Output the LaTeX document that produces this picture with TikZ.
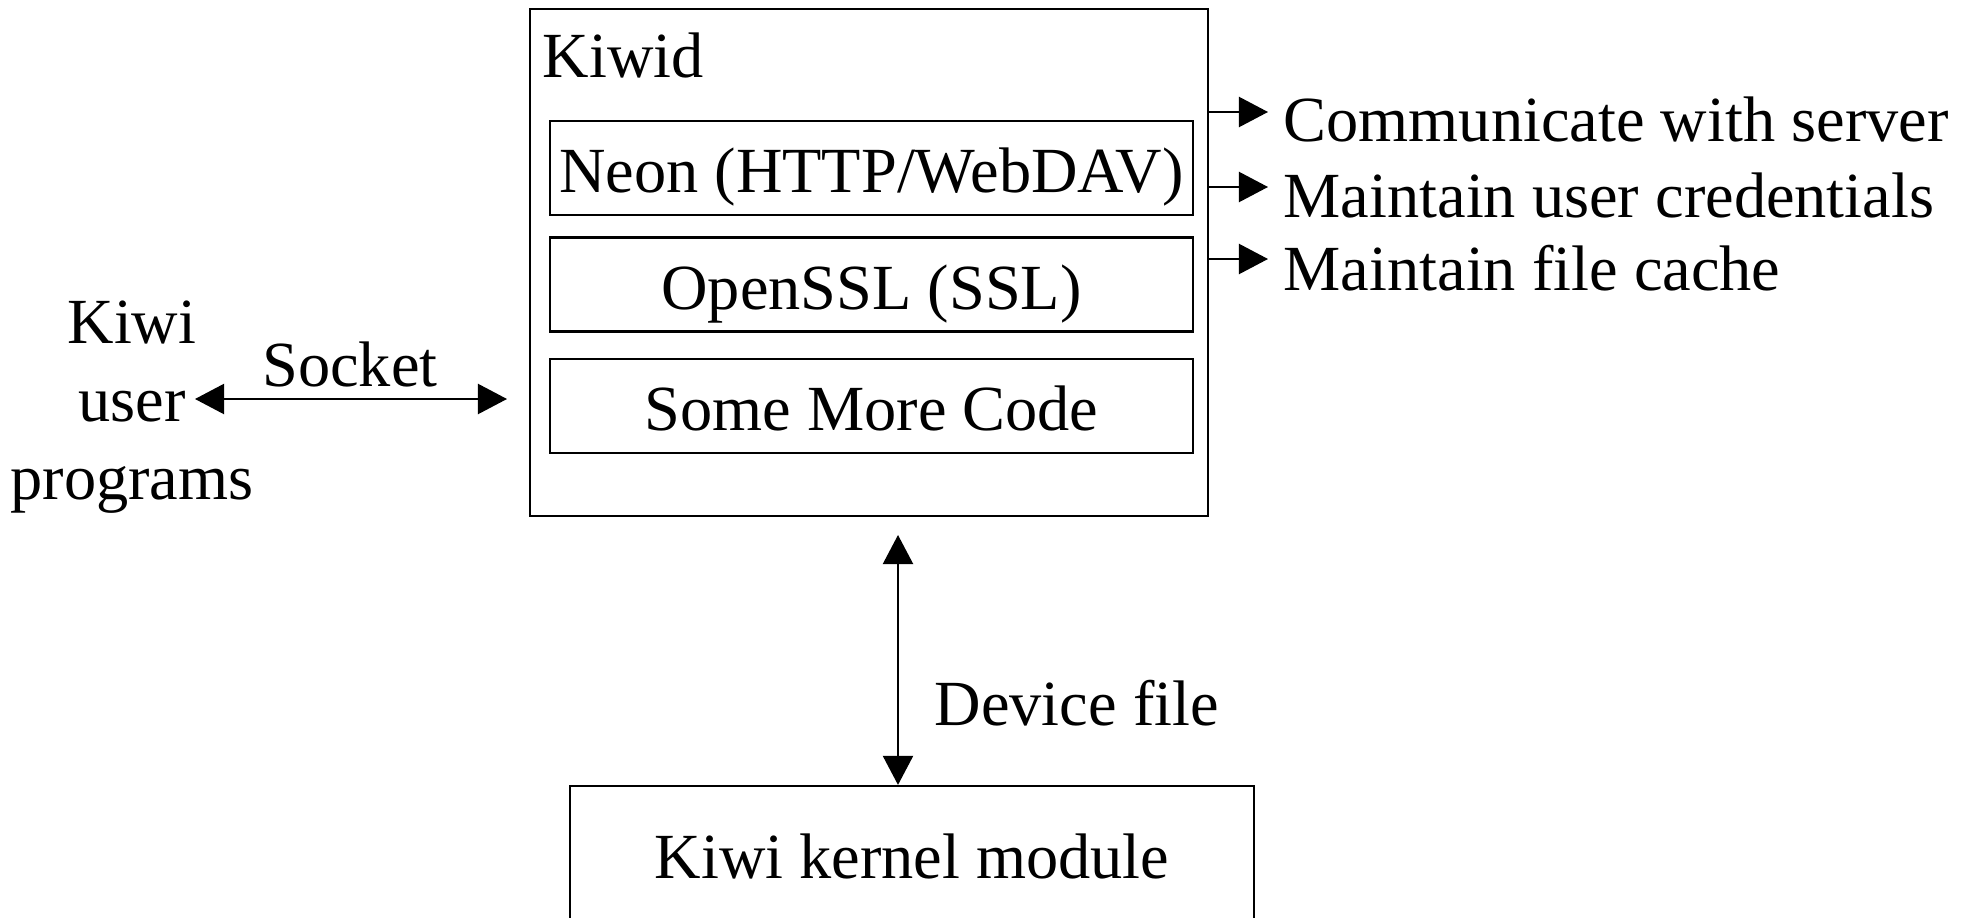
\documentclass[tikz,border=0pt]{standalone}
\usepackage{fontspec}
\setmainfont{Liberation Serif}
\usetikzlibrary{arrows.meta}
\tikzset{>={Triangle[length=2.9mm,width=3mm]}}

\begin{document}
\begin{tikzpicture}[x=0.01cm,y=-0.01cm,
	every node/.style={font=\fontsize{18.3}{22.2}\selectfont},
	frame/.style={draw,line width=0.6pt,inner sep=0pt},
	layer/.style={frame,minimum width=6.43cm,minimum height=0.94cm,text height=14pt,text depth=0pt},
	txt/.style={inner sep=0pt}]
	\useasboundingbox (0,0) rectangle (1969,918);
	\clip (0,0) rectangle (1969,918);
	
	% Kiwid daemon with its libraries
	\node[frame,minimum width=6.78cm,minimum height=5.07cm] (kiwid) at (869,262.5) {};
	\node[txt,anchor=west] (kiwidname) at (542,55) {Kiwid};
	\node[layer] (neon) at (871.5,168) {Neon (HTTP/WebDAV)};
	\node[layer] (ssl) at (871.5,284.5) {OpenSSL (SSL)};
	\node[layer] (more) at (871.5,406) {Some More Code};
	
	% Kernel module (cut off at the bottom)
	\node[frame,minimum width=6.84cm,minimum height=1.40cm] (kernel) at (912,856) {Kiwi kernel module};
	
	% User programs
	\node[txt,align=center] (progs) at (132,407) {Kiwi\\user\\programs};
	
	% Tasks of the daemon
	\node[txt,anchor=west] (comm) at (1283,119) {Communicate with server};
	\node[txt,anchor=west] (cred) at (1283,195) {Maintain user credentials};
	\node[txt,anchor=west] (cache) at (1283,268) {Maintain file cache};
	\coordinate (commtip) at (1268,112);
	\coordinate (credtip) at (1268,187);
	\coordinate (cachetip) at (1268,259);
	
	% Arrow tips of the links
	\coordinate (sockL) at (195,399);
	\coordinate (sockR) at (507,399);
	\coordinate (devtop) at (898,535);
	
	% Drawing everything
	\draw[->,line width=0.6pt] (kiwid.east |- commtip) -- (commtip);
	\draw[->,line width=0.6pt] (kiwid.east |- credtip) -- (credtip);
	\draw[->,line width=0.6pt] (kiwid.east |- cachetip) -- (cachetip);
	\draw[<->,line width=0.6pt] (sockL) -- (sockR);
	\node[txt] (socket) at (350,364) {Socket};
	\draw[<->,line width=0.6pt] (devtop) -- (devtop |- kernel.north);
	\node[txt,anchor=west] (devfile) at (934,703) {Device file};
\end{tikzpicture}
\end{document}
